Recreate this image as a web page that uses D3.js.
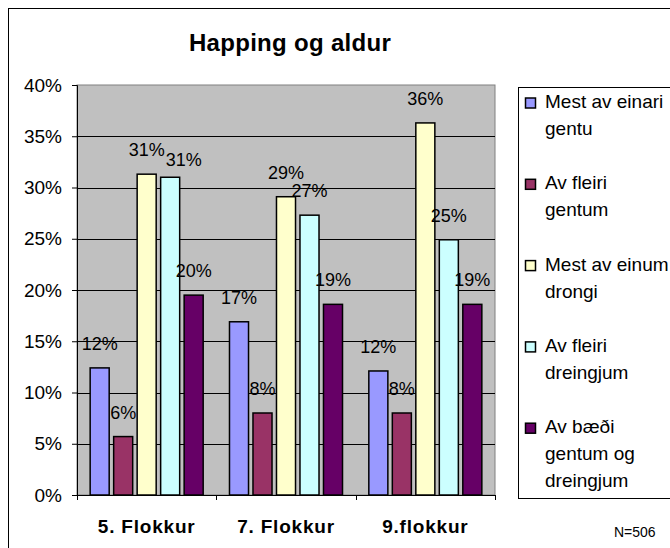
<!DOCTYPE html>
<html>
<head>
<meta charset="utf-8">
<script src="https://cdn.jsdelivr.net/npm/d3@7"></script>
<style>
  body { margin: 0; background: #fff; }
  text { font-family: "Liberation Sans", Arial, sans-serif; fill: #000; }
</style>
</head>
<body>
<div id="chart"></div>
<script>
// data (percent)
var groups = ["5. Flokkur", "7. Flokkur", "9.flokkur"];
var seriesNames = ["Mest av einari\ngentu", "Av fleiri\ngentum", "Mest av einum\ndrongi",
  "Av fleiri\ndreingjum", "Av bæði\ngentum og\ndreingjum"];
var seriesColors = ["#9999FF", "#993366", "#FFFFCC", "#CCFFFF", "#660066"];
var values = [
  [12.4, 5.7, 31.3, 31.0, 19.5],  // 5. Flokkur
  [16.9, 8.0, 29.1, 27.3, 18.6],  // 7. Flokkur
  [12.1, 8.0, 36.3, 24.9, 18.6]   // 9.flokkur
];
var yTicks = [0, 5, 10, 15, 20, 25, 30, 35, 40];

var width = 670, height = 548;
var plot = { left: 77, top: 85, right: 495, bottom: 495 };

var svg = d3.select("#chart").append("svg")
  .attr("width", width)
  .attr("height", height);

// outer chart border
svg.append("rect")
  .attr("x", 8.5).attr("y", 8.5)
  .attr("width", 700).attr("height", 600)
  .style("fill", "#fff")
  .style("stroke", "#000")
  .style("stroke-width", 1);

svg.append("text")
  .attr("x", 290)
  .attr("y", 51)
  .attr("text-anchor", "middle")
  .style("font-size", "24px")
  .style("font-weight", "bold")
  .style("letter-spacing", "0.3px")
  .text("Happing og aldur");

var y = d3.scaleLinear()
  .domain([0, 40])
  .range([plot.bottom, plot.top]);

var x0 = d3.scaleBand()
  .domain(groups)
  .range([plot.left, plot.right]);

var x1 = d3.scaleBand()
  .domain(d3.range(seriesNames.length))
  .range([0, x0.bandwidth()])
  .paddingInner(0.19)
  .paddingOuter(0.56);

// plot background
svg.append("rect")
  .attr("x", plot.left).attr("y", plot.top)
  .attr("width", plot.right - plot.left)
  .attr("height", plot.bottom - plot.top)
  .style("fill", "#C0C0C0")
  .style("stroke", "#808080")
  .style("stroke-width", 1);

// gridlines
svg.append("g")
  .selectAll("line")
  .data(yTicks.filter(function(d) { return d > 0 && d < 40; }))
  .enter()
  .append("line")
  .attr("x1", plot.left)
  .attr("x2", plot.right)
  .attr("y1", function(d) { return Math.round(y(d)) + 0.5; })
  .attr("y2", function(d) { return Math.round(y(d)) + 0.5; })
  .style("stroke", "#000")
  .style("stroke-width", 1);

// y axis
var yAxis = svg.append("g")
  .attr("transform", "translate(" + plot.left + ",0)")
  .call(d3.axisLeft(y)
    .tickValues(yTicks)
    .tickSize(5)
    .tickPadding(10)
    .tickFormat(function(d) { return d + "%"; }));
yAxis.select(".domain").style("stroke", "#000");
yAxis.selectAll("text")
  .style("font-size", "19px")
  .style("font-family", "'Liberation Sans', Arial, sans-serif");

// x axis
var xAxis = svg.append("g")
  .attr("transform", "translate(0," + plot.bottom + ")")
  .call(d3.axisBottom(x0).tickSize(0).tickPadding(25));
xAxis.select(".domain").style("stroke", "#000");
xAxis.selectAll("text")
  .style("font-size", "19px")
  .style("font-weight", "bold")
  .style("letter-spacing", "0.8px")
  .style("font-family", "'Liberation Sans', Arial, sans-serif");

// x tick marks between categories
svg.append("g")
  .selectAll("line")
  .data(groups.map(function(g) { return x0(g); }).concat([plot.right]))
  .enter()
  .append("line")
  .attr("x1", function(d) { return Math.round(d) + 0.5; })
  .attr("x2", function(d) { return Math.round(d) + 0.5; })
  .attr("y1", plot.bottom)
  .attr("y2", plot.bottom + 5)
  .style("stroke", "#000");

// bars
var groupG = svg.append("g")
  .selectAll("g")
  .data(groups)
  .enter()
  .append("g")
  .attr("transform", function(d) { return "translate(" + x0(d) + ",0)"; });

groupG.selectAll("rect")
  .data(function(d, gi) { return values[gi].map(function(v, si) { return { v: v, s: si }; }); })
  .enter()
  .append("rect")
  .attr("x", function(d) { return x1(d.s); })
  .attr("y", function(d) { return y(d.v); })
  .attr("width", x1.bandwidth())
  .attr("height", function(d) { return plot.bottom - y(d.v); })
  .style("fill", function(d) { return seriesColors[d.s]; })
  .style("stroke", "#000")
  .style("stroke-width", 1.5);

// value labels
groupG.each(function() {
  var prev = null;
  d3.select(this).selectAll("text.val")
    .data(function(d) { return values[groups.indexOf(d)].map(function(v, si) { return { v: v, s: si }; }); })
    .enter()
    .append("text")
    .attr("class", "val")
    .attr("x", function(d) { return x1(d.s) + x1.bandwidth() / 2; })
    .attr("y", function(d) { return y(d.v) - 18; })
    .attr("text-anchor", "middle")
    .style("font-size", "18px")
    .text(function(d) { return Math.round(d.v) + "%"; })
    .each(function() {
      // nudge a label right/down when it sits on top of the previous one
      var b = this.getBBox();
      if (prev && b.x < prev.x + prev.width && Math.abs(b.y - prev.y) < 12) {
        var dx = prev.x + prev.width + 1 - b.x;
        d3.select(this)
          .attr("x", +d3.select(this).attr("x") + dx)
          .attr("y", +d3.select(this).attr("y") + 7);
        b = this.getBBox();
      }
      prev = b;
    });
});

// legend
var legend = svg.append("g");
legend.append("rect")
  .attr("x", 518.5).attr("y", 87.5)
  .attr("width", 200).attr("height", 411)
  .style("fill", "#fff")
  .style("stroke", "#000")
  .style("stroke-width", 1);

var item = legend.selectAll("g.item")
  .data(seriesNames)
  .enter()
  .append("g")
  .attr("class", "item")
  .attr("transform", function(d, i) { return "translate(0," + (108 + i * 81.3) + ")"; });

item.append("rect")
  .attr("x", 525.5).attr("y", -10)
  .attr("width", 10).attr("height", 10)
  .style("fill", function(d, i) { return seriesColors[i]; })
  .style("stroke", "#000")
  .style("stroke-width", 1.5);

item.selectAll("text")
  .data(function(d) { return d.split("\n"); })
  .enter()
  .append("text")
  .attr("x", 545)
  .attr("y", function(d, j) { return j * 27; })
  .style("font-size", "19px")
  .text(function(d) { return d; });

svg.append("text")
  .attr("x", 614)
  .attr("y", 537)
  .style("font-size", "14px")
  .text("N=506");
</script>
</body>
</html>
